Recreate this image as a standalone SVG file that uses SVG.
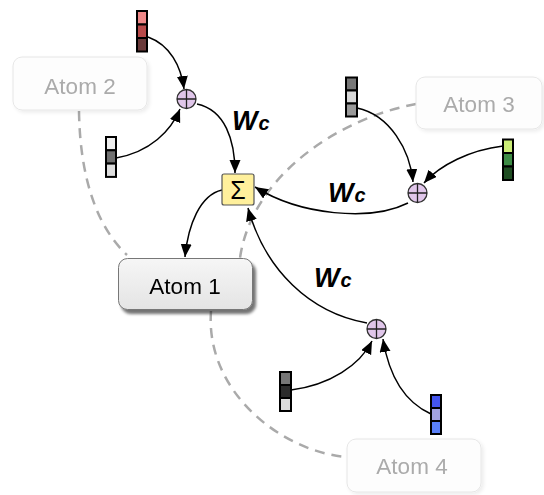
<svg xmlns="http://www.w3.org/2000/svg" width="544" height="495" viewBox="0 0 544 495">
<defs>
  <marker id="ah" markerUnits="userSpaceOnUse" markerWidth="14" markerHeight="12" refX="13" refY="5.5" orient="auto">
    <path d="M0,0 L13,5.5 L0,11 Z" fill="#000"/>
  </marker>
  <filter id="sh" x="-20%" y="-20%" width="150%" height="160%">
    <feGaussianBlur in="SourceAlpha" stdDeviation="1.8"/>
    <feOffset dx="3" dy="4" result="b"/>
    <feComponentTransfer><feFuncA type="linear" slope="0.55"/></feComponentTransfer>
    <feMerge><feMergeNode/><feMergeNode in="SourceGraphic"/></feMerge>
  </filter>
  <filter id="shl" x="-20%" y="-20%" width="150%" height="160%">
    <feGaussianBlur in="SourceAlpha" stdDeviation="2"/>
    <feOffset dx="2" dy="2" result="b"/>
    <feComponentTransfer><feFuncA type="linear" slope="0.08"/></feComponentTransfer>
    <feMerge><feMergeNode/><feMergeNode in="SourceGraphic"/></feMerge>
  </filter>
  <linearGradient id="g1" x1="0" y1="0" x2="0" y2="1">
    <stop offset="0" stop-color="#F6F6F6"/>
    <stop offset="1" stop-color="#E4E4E4"/>
  </linearGradient>
</defs>
<style>
  .dash{fill:none;stroke:#AAAAAA;stroke-width:2.5;stroke-dasharray:10,7}
  .arr{fill:none;stroke:#000;stroke-width:1.5;marker-end:url(#ah)}
  .faint rect{fill:#FDFDFD;stroke:#E6E6E6;stroke-width:1}
  .faint text{fill:#ABABAB}
  .lbl{font-family:"Liberation Sans",Arial,sans-serif;font-size:22.5px;text-anchor:middle}
  .cell{stroke:#000;stroke-width:2}
  .plus circle{fill:#E0C6EA;stroke:#333;stroke-width:1.3}
  .plus path{stroke:#222;stroke-width:1.3}
  .w{font-family:"Liberation Sans",Arial,sans-serif;font-weight:bold;font-style:italic;fill:#000}
</style>

<g id="dashed">
  <path class="dash" d="M79,111 C80,180 98,228 127,255"/>
  <path class="dash" d="M416,104 C340,118 252,175 240,258"/>
  <path class="dash" d="M211,311 C205,392 282,452 347,457"/>
</g>

<g id="atom2" class="faint" filter="url(#shl)">
  <rect x="13" y="57" width="134" height="53" rx="9"/>
  <text class="lbl" x="80" y="94">Atom 2</text>
</g>
<g id="atom3" class="faint" filter="url(#shl)">
  <rect x="416" y="77" width="126" height="52" rx="9"/>
  <text class="lbl" x="479" y="112">Atom 3</text>
</g>
<g id="atom4" class="faint" filter="url(#shl)">
  <rect x="347" y="439" width="134" height="53" rx="9"/>
  <text class="lbl" x="412" y="474">Atom 4</text>
</g>
<g id="atom1" filter="url(#sh)">
  <rect x="118.5" y="258.5" width="134" height="51" rx="9" fill="url(#g1)" stroke="#777" stroke-width="1"/>
  <text class="lbl" x="185" y="294" fill="#000">Atom 1</text>
</g>

<g id="connectors">
  <path class="arr" d="M148,37 C170,45 181,66 184,89"/>
  <path class="arr" d="M116,158 C150,152 171,131 180,109"/>
  <path class="arr" d="M197,104 C225,110 235,140 235,173"/>
  <path class="arr" d="M222,190 C200,195 188,225 185,257"/>
  <path class="arr" d="M408,203 C370,222 300,215 255,187"/>
  <path class="arr" d="M357,108 C390,115 410,150 413,182"/>
  <path class="arr" d="M503,146 C470,150 440,165 424,183"/>
  <path class="arr" d="M367,323 C310,313 265,270 248,208"/>
  <path class="arr" d="M291,390 C330,385 360,365 372,341"/>
  <path class="arr" d="M431,414 C400,400 388,370 383,339"/>
</g>

<g id="sigma">
  <rect x="222" y="174" width="32" height="31" rx="2" fill="#FFF09C" stroke="#555" stroke-width="1.2"/>
  <text x="238" y="198.5" font-family="'Liberation Sans',Arial,sans-serif" font-size="25" text-anchor="middle" fill="#000">Σ</text>
</g>

<g id="plus1" class="plus"><circle cx="186.5" cy="99" r="9.5"/><path d="M177,99 H196 M186.5,89.5 V108.5"/></g>
<g id="plus2" class="plus"><circle cx="417.5" cy="193" r="9.5"/><path d="M408,193 H427 M417.5,183.5 V202.5"/></g>
<g id="plus3" class="plus"><circle cx="376.5" cy="329" r="9.5"/><path d="M367,329 H386 M376.5,319.5 V338.5"/></g>

<g id="vec1">
  <rect class="cell" x="137" y="11" width="10" height="13.5" fill="#EE8888"/>
  <rect class="cell" x="137" y="24.5" width="10" height="13.5" fill="#B84A4A"/>
  <rect class="cell" x="137" y="38" width="10" height="13.5" fill="#6A3A3A"/>
</g>
<g id="vec2">
  <rect class="cell" x="106" y="137" width="10" height="13.3" fill="#EEEEEE"/>
  <rect class="cell" x="106" y="150.3" width="10" height="13.3" fill="#707070"/>
  <rect class="cell" x="106" y="163.6" width="10" height="13.3" fill="#DDDDDD"/>
</g>
<g id="vec3">
  <rect class="cell" x="346" y="77.5" width="11" height="13" fill="#777777"/>
  <rect class="cell" x="346" y="90.5" width="11" height="13" fill="#D8D8D8"/>
  <rect class="cell" x="346" y="103.5" width="11" height="13" fill="#999999"/>
</g>
<g id="vec4">
  <rect class="cell" x="503" y="139.5" width="10" height="13.5" fill="#CCEE77"/>
  <rect class="cell" x="503" y="153" width="10" height="13.5" fill="#3D8B45"/>
  <rect class="cell" x="503" y="166.5" width="10" height="13.5" fill="#1F4D22"/>
</g>
<g id="vec5">
  <rect class="cell" x="280" y="372" width="11" height="13" fill="#777777"/>
  <rect class="cell" x="280" y="385" width="11" height="13" fill="#2C2C2C"/>
  <rect class="cell" x="280" y="398" width="11" height="13" fill="#DDDDDD"/>
</g>
<g id="vec6">
  <rect class="cell" x="431" y="395" width="10" height="13" fill="#4455EE"/>
  <rect class="cell" x="431" y="408" width="10" height="13" fill="#A0A0E0"/>
  <rect class="cell" x="431" y="421" width="10" height="13" fill="#5A80F8"/>
</g>

<g id="labels">
  <text class="w" x="232" y="130"><tspan font-size="27">W</tspan><tspan font-size="20" dx="1">c</tspan></text>
  <text class="w" x="328" y="202"><tspan font-size="27">W</tspan><tspan font-size="20" dx="1">c</tspan></text>
  <text class="w" x="314" y="287"><tspan font-size="27">W</tspan><tspan font-size="20" dx="1">c</tspan></text>
</g>
</svg>
